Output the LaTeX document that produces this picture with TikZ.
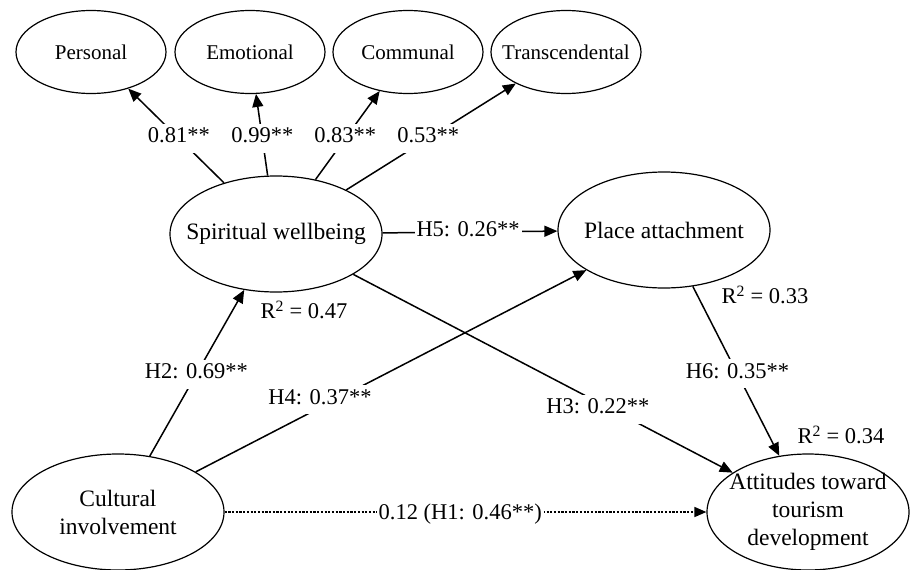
\documentclass[tikz,border=0pt]{standalone}
\usepackage{fontspec}
\setmainfont{Liberation Serif}
\usetikzlibrary{shapes.geometric,arrows.meta,calc}
\begin{document}
\begin{tikzpicture}[x=1pt,y=-1pt,
  ell/.style={draw, ellipse, line width=1.2pt, inner sep=0pt},
  small/.style={ell, minimum width=150pt, minimum height=83pt},
  big/.style={ell, minimum width=212pt, minimum height=116pt},
  smalltext/.style={font=\fontsize{21}{25}\selectfont},
  bigtext/.style={font=\fontsize{23.5}{28}\selectfont, align=center},
  lab/.style={font=\fontsize{22.5}{27}\selectfont, fill=white, inner xsep=2pt, inner ysep=2pt, text height=17pt, text depth=8pt},
  rsq/.style={font=\fontsize{22.5}{27}\selectfont, inner sep=0pt},
  conn/.style={line width=1.5pt, -{Triangle[length=13pt,width=11pt]}},
  dotconn/.style={line width=1.5pt, dash pattern=on 2.2pt off 1.5pt, -{Triangle[length=12pt,width=10pt]}}
]
\useasboundingbox (0,0) rectangle (910,570);

\node[small, label={[smalltext]center:Personal}] (per) at (91,52) {};
\node[small, label={[smalltext]center:Emotional}] (emo) at (250,52) {};
\node[small, label={[smalltext]center:Communal}] (com) at (408,52) {};
\node[small, label={[smalltext]center:Transcendental}] (tra) at (566,52) {};

\node[big, label={[bigtext]center:Spiritual wellbeing}] (sw) at (276,234) {};
\node[big, label={[bigtext]center:Place attachment}] (pa) at (664,230) {};
\node[big, label={[bigtext]center:Cultural\\involvement}] (ci) at (118,512) {};
\node[big, minimum width=202pt, label={[bigtext]center:Attitudes toward\\tourism\\development}] (at) at (808,512) {};

\draw[conn] (sw) -- (per);
\draw[conn] (sw) -- (emo);
\draw[conn] (sw) -- (com);
\draw[conn] (sw) -- (tra);
\draw[conn] (sw) -- (pa);
\draw[conn] (ci) -- (sw);
\draw[conn] (ci) -- (pa);
\draw[conn] (sw) -- (at);
\draw[conn] (pa) -- (at);
\draw[dotconn] (ci) -- (at);

\node[lab] (l1) at ($(sw)!0.525!(per)$) {0.81**};
\node[lab] (l2) at ($(sw)!0.525!(emo)$) {0.99**};
\node[lab] (l3) at ($(sw)!0.525!(com)$) {0.83**};
\node[lab] (l4) at ($(sw)!0.525!(tra)$) {0.53**};
\node[lab] (h5) at ($(sw)!0.495!(pa)$) {H5: 0.26**};
\node[lab] (h2) at ($(ci)!0.496!(sw)$) {H2: 0.69**};
\node[lab, yshift=8pt] (h4) at ($(ci)!0.37!(pa)$) {H4: 0.37**};
\node[lab, yshift=-7pt] (h3) at ($(sw)!0.605!(at)$) {H3: 0.22**};
\node[lab] (h6) at ($(pa)!0.51!(at)$) {H6: 0.35**};
\node[lab, yshift=-3pt] (h1) at ($(ci)!0.496!(at)$) {0.12 (H1: 0.46**)};

\node[rsq] (r1) at (304,310) {R\textsuperscript{2} = 0.47};
\node[rsq] (r2) at (765,295) {R\textsuperscript{2} = 0.33};
\node[rsq] (r3) at (841,435) {R\textsuperscript{2} = 0.34};
\end{tikzpicture}
\end{document}
